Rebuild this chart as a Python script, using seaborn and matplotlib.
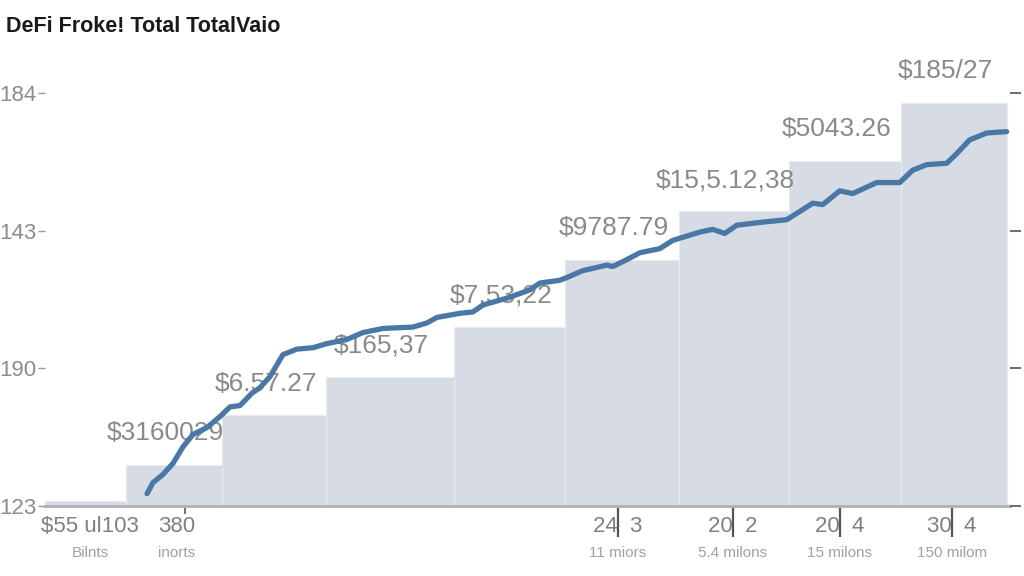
import matplotlib
matplotlib.use("Agg")
import matplotlib.pyplot as plt
import matplotlib.transforms as mtransforms
import seaborn as sns
import pandas as pd

# step bars (period edges) and heights
bar_edges = [0, 8.1, 17.7, 28.1, 40.9, 52.0, 63.4, 74.4, 85.6, 96.2]
bar_heights = [0.04, 0.30, 0.66, 0.94, 1.30, 1.79, 2.14, 2.51, 2.93]
bar_labels = ["", "$3160029", "$6.57.27", "$165,37", "$7,53,22",
              "$9787.79", "$15,5.12,38", "$5043.26", "$185/27"]

# running total line
line_x = [10.2, 10.8, 11.8, 12.8, 13.8, 14.8, 16.2, 17.5, 18.5, 19.5, 20.7, 21.5,
          22.5, 23.8, 25.2, 26.8, 28.2, 30.2, 31.8, 33.8, 36.8, 38.2, 39.2, 41.5,
          42.8, 43.8, 46.2, 48.5, 49.5, 51.5, 52.2, 53.8, 56.2, 56.8, 58.2, 59.5,
          61.5, 62.8, 65.5, 66.8, 68.0, 69.2, 71.5, 74.2, 76.8, 77.8, 79.5, 80.8,
          83.2, 85.5, 86.8, 88.2, 90.2, 91.2, 92.5, 94.2, 96.2]
line_y = [0.09, 0.17, 0.23, 0.31, 0.43, 0.52, 0.57, 0.65, 0.72, 0.73, 0.82, 0.86,
          0.94, 1.10, 1.14, 1.15, 1.18, 1.21, 1.26, 1.29, 1.30, 1.33, 1.37, 1.40,
          1.41, 1.46, 1.51, 1.57, 1.62, 1.64, 1.66, 1.71, 1.75, 1.74, 1.79, 1.84,
          1.87, 1.93, 1.99, 2.01, 1.98, 2.04, 2.06, 2.08, 2.20, 2.19, 2.29, 2.27,
          2.35, 2.35, 2.44, 2.48, 2.49, 2.56, 2.66, 2.71, 2.72]

y_ticks = [0, 1, 2, 3]
y_tick_labels = ["123", "190", "143", "184"]

x_ticks = [57.3, 68.8, 79.5, 90.7]
x_minor_ticks = [14.0]
bottom_pos = [4.5, 13.2, 57.3, 68.8, 79.5, 90.7]
bottom_top = ["$55 ul103", "380", "24  3", "20  2", "20  4", "30  4"]
bottom_sub = ["Bilnts", "inorts", "11 miors", "5.4 milons", "15 milons", "150 milom"]

sns.set_theme(style="white")
plt.rcParams["font.family"] = ["Liberation Sans", "DejaVu Sans"]

fig = plt.figure(figsize=(10.24, 5.76), dpi=100)
ax = fig.add_axes([0.044, 0.1215, 0.942, 0.8125])

widths = [b - a for a, b in zip(bar_edges[:-1], bar_edges[1:])]
bars = ax.bar(bar_edges[:-1], bar_heights, width=widths, align="edge",
              color="#d7dce4", edgecolor="#e8ebef", linewidth=0.8, zorder=1)

for rect, lab in zip(bars, bar_labels):
    if not lab:
        continue
    ax.annotate(lab, (rect.get_x() + rect.get_width() / 2, rect.get_height()),
                xytext=(-6, 14), textcoords="offset points", ha="center", va="bottom",
                fontsize=19, color="#8a8a8a", zorder=2)

df = pd.DataFrame({"x": line_x, "y": line_y})
sns.lineplot(data=df, x="x", y="y", ax=ax, color="#4a78a6", linewidth=3.8,
             solid_capstyle="round", solid_joinstyle="round", zorder=3)

ax.set_xlim(0, 96.5)
ax.set_ylim(0, 3.4)
ax.set_xlabel("")
ax.set_ylabel("")

for s in ["top", "left", "right"]:
    ax.spines[s].set_visible(False)
ax.spines["bottom"].set_color("#b3b3b3")
ax.spines["bottom"].set_linewidth(2.2)

ax.set_yticks(y_ticks)
ax.set_yticklabels(y_tick_labels)
ax.tick_params(axis="y", left=True, right=False, length=5, width=1, color="#9a9a9a",
               labelsize=16, labelcolor="#8c8c8c", pad=1)

# short dark ticks on the right edge
ax_r = ax.twinx()
ax_r.set_ylim(ax.get_ylim())
ax_r.set_yticks(y_ticks)
ax_r.set_yticklabels([])
for s in ax_r.spines.values():
    s.set_visible(False)
ax_r.tick_params(axis="y", right=True, length=8, width=1.2, color="#555555")

ax.set_xticks(x_ticks)
ax.set_xticklabels([])
ax.set_xticks(x_minor_ticks, minor=True)
ax.tick_params(axis="x", which="major", bottom=True, length=22, width=1.6, color="#555555")
ax.tick_params(axis="x", which="minor", bottom=True, length=6, width=1.2, color="#555555")

trans = mtransforms.blended_transform_factory(ax.transData, fig.transFigure)
for xp, t1, t2 in zip(bottom_pos, bottom_top, bottom_sub):
    fig.text(xp, 1 - 526 / 576, t1, transform=trans, ha="center", va="center",
             fontsize=16, color="#808080")
    fig.text(xp, 1 - 553 / 576, t2, transform=trans, ha="center", va="center",
             fontsize=11, color="#a0a0a0")

fig.text(0.006, 0.972, "DeFi Froke! Total TotalVaio", ha="left", va="top",
         fontsize=15.5, fontweight="bold", color="#1a1a1a")

fig.savefig("out.png", dpi=100, facecolor="white")
